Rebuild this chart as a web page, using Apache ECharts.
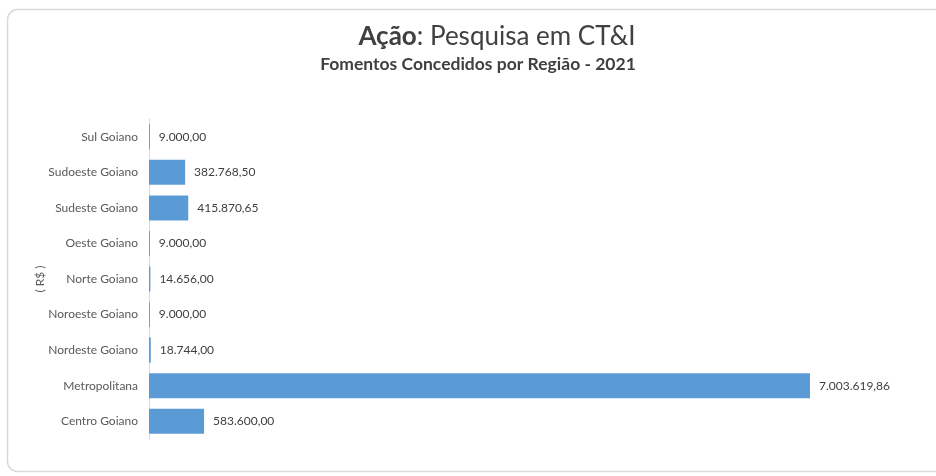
<!DOCTYPE html>
<html>
<head>
<meta charset="utf-8">
<script src="https://cdn.jsdelivr.net/npm/echarts@6/dist/echarts.min.js"></script>
<style>
  html, body { margin: 0; padding: 0; background: #ffffff; }
  #chart { width: 936px; height: 476px; }
</style>
</head>
<body>
<div id="chart"></div>
<script>
// data, bottom to top as drawn
const regioes = [
  "Centro Goiano",
  "Metropolitana",
  "Nordeste Goiano",
  "Noroeste Goiano",
  "Norte Goiano",
  "Oeste Goiano",
  "Sudeste Goiano",
  "Sudoeste Goiano",
  "Sul Goiano"
];
const fomentos = [583600.00, 7003619.86, 18744.00, 9000.00, 14656.00, 9000.00, 415870.65, 382768.50, 9000.00];

// 1234567.8 -> "1.234.567,80"
function fmtBR(v) {
  const parts = v.toFixed(2).split(".");
  const inteiro = parts[0].replace(/\B(?=(\d{3})+(?!\d))/g, ".");
  return inteiro + "," + parts[1];
}

const chart = echarts.init(document.getElementById("chart"));

const option = {
  backgroundColor: "#ffffff",
  animation: false,
  textStyle: { fontFamily: "Lato" },
  title: [
    {
      text: "{b|Ação}: Pesquisa em CT&I",
      left: 492,
      textAlign: "center",
      top: 19,
      textStyle: {
        color: "#404040",
        fontSize: 26,
        fontWeight: "normal",
        fontFamily: "Lato",
        rich: {
          b: { fontSize: 26, fontWeight: "bold", color: "#404040", fontFamily: "Lato" }
        }
      }
    },
    {
      text: "Fomentos Concedidos por Região - 2021",
      left: 473,
      textAlign: "center",
      top: 50,
      textStyle: {
        color: "#404040",
        fontSize: 17.5,
        fontWeight: "bold",
        fontFamily: "Lato"
      }
    }
  ],
  graphic: [
    {
      type: "rect",
      shape: { x: 7.5, y: 9.5, width: 960, height: 462, r: 10 },
      style: { fill: "none", stroke: "#d9d9d9", lineWidth: 1.5 },
      silent: true,
      z: -1
    }
  ],
  grid: {
    left: 149,
    top: 119,
    width: 755,
    height: 320
  },
  xAxis: {
    type: "value",
    min: 0,
    max: 8000000,
    show: false
  },
  yAxis: {
    type: "category",
    data: regioes,
    name: "( R$ )",
    nameLocation: "middle",
    nameRotate: 90,
    nameGap: 103,
    nameMoveOverlap: false,
    nameTextStyle: { color: "#595959", fontSize: 12, fontFamily: "Lato" },
    axisLine: { show: true, lineStyle: { color: "#d9d9d9", width: 1 } },
    axisTick: { show: false },
    axisLabel: { color: "#595959", fontSize: 12, margin: 11, fontFamily: "Lato" },
    splitLine: { show: false }
  },
  series: [
    {
      type: "bar",
      data: fomentos,
      barWidth: 25,
      itemStyle: { color: "#5b9bd5" },
      label: {
        show: true,
        position: "right",
        distance: 9,
        color: "#404040",
        fontSize: 12,
        fontFamily: "Lato",
        formatter: (p) => fmtBR(p.value)
      }
    }
  ]
};

chart.setOption(option);
</script>
</body>
</html>
